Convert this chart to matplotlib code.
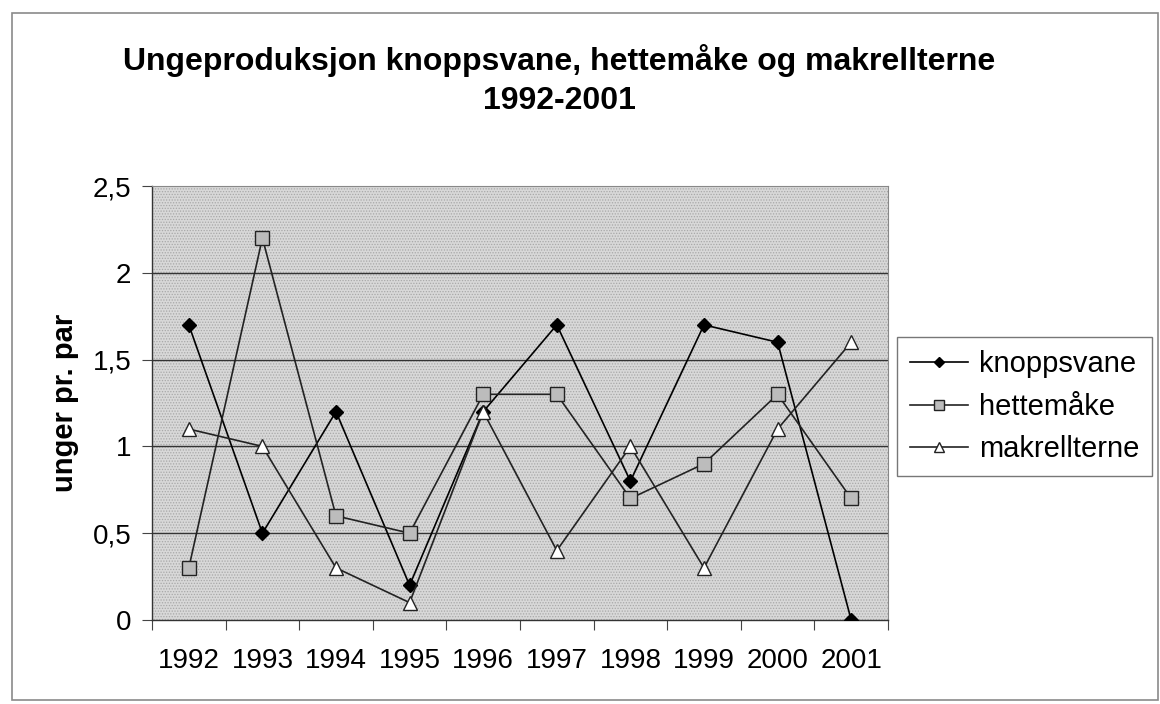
import matplotlib

matplotlib.use("Agg")
import matplotlib.pyplot as plt
import matplotlib.patches as patches
import numpy as np

plt.rcParams.update({"font.family": ["Liberation Sans", "DejaVu Sans"], "hatch.linewidth": 0.6})

YEARS = ["1992", "1993", "1994", "1995", "1996", "1997", "1998", "1999", "2000", "2001"]
KNOPPSVANE = [1.7, 0.5, 1.2, 0.2, 1.2, 1.7, 0.8, 1.7, 1.6, 0.0]
HETTEMAKE = [0.3, 2.2, 0.6, 0.5, 1.3, 1.3, 0.7, 0.9, 1.3, 0.7]
MAKRELLTERNE = [1.1, 1.0, 0.3, 0.1, 1.2, 0.4, 1.0, 0.3, 1.1, 1.6]
YTICKS = [0, 0.5, 1, 1.5, 2, 2.5]
YTICKLABELS = ["0", "0,5", "1", "1,5", "2", "2,5"]

fig = plt.figure(figsize=(11.6, 7.04), dpi=100)
fig.patch.set_facecolor("white")

# outer chart frame
fig.patches.append(
    patches.Rectangle((12 / 1160, 0.005), 1 - 14 / 1160, 1 - 13 / 704 - 0.005,
                      transform=fig.transFigure, fill=False, edgecolor="#8a8a8a", linewidth=1.2)
)

ax = fig.add_axes([152 / 1160, 1 - 620 / 704, 736 / 1160, 434 / 704])
ax.set_facecolor("#d8d8d8")
ax.add_patch(patches.Rectangle((0, 0), 1, 1, transform=ax.transAxes, facecolor="none",
                               edgecolor="#a8a8a8", hatch="......", linewidth=0, zorder=0))

x = np.arange(len(YEARS)) + 0.5
for y in YTICKS[1:-1]:
    ax.axhline(y, color="#333333", linewidth=1.0, zorder=1)

ax.plot(x, KNOPPSVANE, color="black", linewidth=1.2, marker="D", markersize=7,
        markerfacecolor="black", markeredgecolor="black", label="knoppsvane", zorder=3)
ax.plot(x, HETTEMAKE, color="#222222", linewidth=1.2, marker="s", markersize=10,
        markerfacecolor="#bcbcbc", markeredgecolor="#222222", label="hettemåke", zorder=3)
ax.plot(x, MAKRELLTERNE, color="#222222", linewidth=1.2, marker="^", markersize=10,
        markerfacecolor="white", markeredgecolor="#222222", label="makrellterne", zorder=3)

ax.set_xlim(0, len(YEARS))
ax.set_ylim(0, 2.5)
ax.set_xticks(np.arange(len(YEARS) + 1))
ax.set_xticklabels([])
ax.set_xticks(x, minor=True)
ax.set_xticklabels(YEARS, minor=True, fontsize=20)
ax.tick_params(axis="x", which="minor", length=0, pad=20)
ax.tick_params(axis="x", which="major", length=7, direction="out", color="#444444")
ax.set_yticks(YTICKS)
ax.set_yticklabels(YTICKLABELS, fontsize=20)
ax.tick_params(axis="y", length=7, direction="out", color="#444444", pad=8)
for s in ["top", "right"]:
    ax.spines[s].set_color("#888888")
    ax.spines[s].set_linewidth(0.8)
for s in ["left", "bottom"]:
    ax.spines[s].set_color("#333333")
    ax.spines[s].set_linewidth(1.0)

ax.set_ylabel("unger pr. par", fontsize=21, fontweight="bold", labelpad=10)

fig.suptitle("Ungeproduksjon knoppsvane, hettemåke og makrellterne\n1992-2001",
             x=559 / 1160, y=1 - 44 / 704, fontsize=23, fontweight="bold", linespacing=1.4)

leg = fig.legend(loc="upper left", bbox_to_anchor=(897 / 1160, 1 - 337 / 704), fontsize=21,
                 frameon=True, fancybox=False, handlelength=2.0, handletextpad=0.35,
                 borderpad=0.45, borderaxespad=0, labelspacing=0.5, markerscale=0.75)
leg.get_frame().set_edgecolor("#555555")
leg.get_frame().set_linewidth(1.0)

fig.savefig("out.png", dpi=100)
